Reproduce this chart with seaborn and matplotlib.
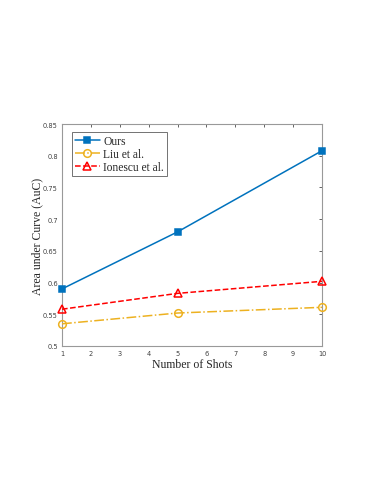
import pandas as pd
import seaborn as sns
import matplotlib.pyplot as plt

# Datos
shots = [1, 5, 10]
ours = [0.590, 0.680, 0.808]
liu = [0.535, 0.552, 0.561]
ionescu = [0.558, 0.583, 0.602]

df = pd.DataFrame({
    'Shots': shots * 3,
    'AuC': ours + liu + ionescu,
    'Method': ['Ours'] * 3 + ['Liu et al.'] * 3 + ['Ionescu et al.'] * 3,
})

sns.set_theme(style="white")
plt.rcParams['font.family'] = ['DejaVu Sans']

fig = plt.figure(figsize=(3.72, 4.81), dpi=100)
ax = fig.add_axes([0.1667, 0.2786, 0.699, 0.4614])

colors = {'Ours': '#0072BD', 'Liu et al.': '#EDB120', 'Ionescu et al.': '#FF0000'}
styles = {'Ours': '-', 'Liu et al.': '-.', 'Ionescu et al.': '--'}
markers = {'Ours': 's', 'Liu et al.': 'o', 'Ionescu et al.': '^'}

for m in ['Ours', 'Liu et al.', 'Ionescu et al.']:
    sub = df[df['Method'] == m]
    filled = m == 'Ours'
    sns.lineplot(x='Shots', y='AuC', data=sub, ax=ax, color=colors[m],
                 linestyle=styles[m], marker=markers[m], markersize=4.2 if filled else 5.5,
                 markerfacecolor=colors[m] if filled else 'none',
                 markeredgecolor=colors[m], markeredgewidth=1.1,
                 linewidth=1.1, label=m, errorbar=None, clip_on=False, zorder=3)

ax.set_xlim(1, 10)
ax.set_ylim(0.5, 0.85)
ax.set_xticks(range(1, 11))
yt = [0.5, 0.55, 0.6, 0.65, 0.7, 0.75, 0.8, 0.85]
ax.set_yticks(yt)
ax.set_yticklabels(['0.5', '0.55', '0.6', '0.65', '0.7', '0.75', '0.8', '0.85'])
ax.tick_params(axis='both', direction='in', length=2.5, width=0.5, labelsize=4.8,
               colors='#262626', labelcolor='#404040', top=True, right=True, pad=3)
for s in ax.spines.values():
    s.set_color('#999999')
    s.set_linewidth(0.8)

ax.set_xlabel('Number of Shots', family='Liberation Serif', fontsize=8.5, labelpad=1)
ax.set_ylabel('Area under Curve (AuC)', family='Liberation Serif', fontsize=8.5, labelpad=0)

leg = ax.legend(loc='upper left', prop={'family': 'Liberation Serif', 'size': 8.3},
                frameon=True, fancybox=False, edgecolor='#333333', handlelength=2.2,
                borderpad=0.25, labelspacing=0.1, handletextpad=0.3,
                bbox_to_anchor=(0.015, 0.99))
leg.get_frame().set_linewidth(0.6)

fig.savefig('out.png', dpi=100, facecolor='white')
